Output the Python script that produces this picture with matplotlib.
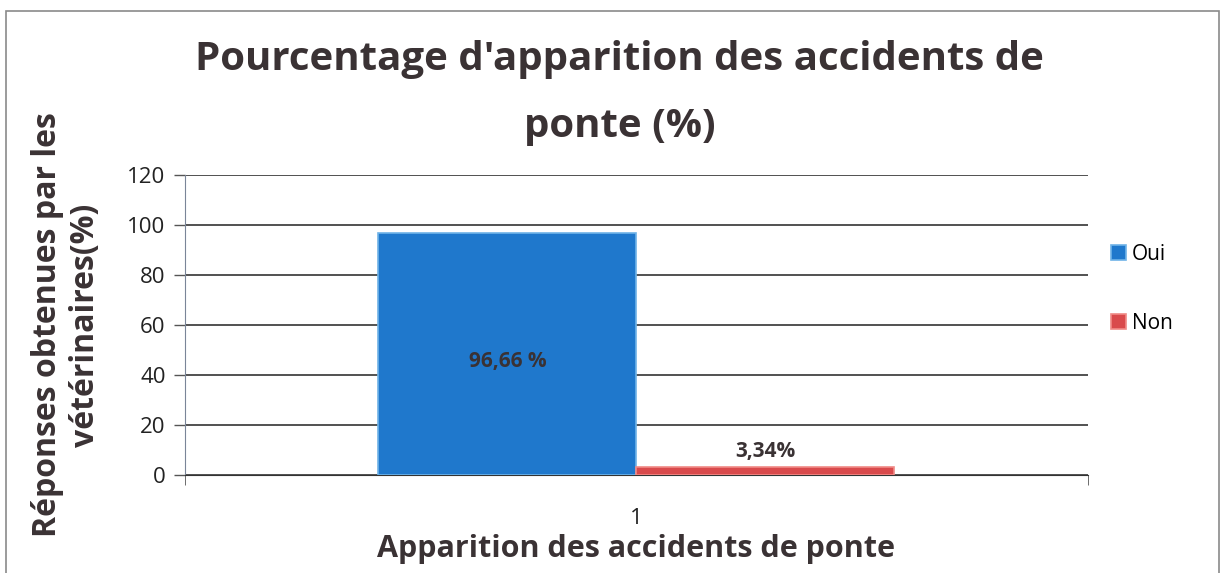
import matplotlib.pyplot as plt
from matplotlib.patches import Rectangle

series = ["Oui", "Non"]
values = [96.66, 3.34]
value_labels = ["96,66 %", "3,34%"]
category = [1]
yticks = [0, 20, 40, 60, 80, 100, 120]

colors = ["#1f78cc", "#d94a4c"]
edges = ["#6fb3e8", "#f08a86"]
txt = "#3a3234"

plt.rcParams["font.family"] = ["Open Sans", "DejaVu Sans"]

fig = plt.figure(figsize=(12.25, 5.73), dpi=100)
ax = fig.add_axes([0.151, 0.171, 0.737, 0.5236])

w = 0.2857
offsets = [-w / 2, w / 2]
for s, v, c, e, off in zip(series, values, colors, edges, offsets):
    ax.bar(category[0] + off, v, width=w, color=c, edgecolor=e, linewidth=1.2,
           label=s, zorder=3)

ax.text(category[0] + offsets[0], values[0] / 2 - 3, value_labels[0], ha="center",
        va="center", fontsize=15, fontweight="bold", color=txt, zorder=4)
ax.text(category[0] + offsets[1], values[1] + 2, value_labels[1], ha="center",
        va="bottom", fontsize=15, fontweight="bold", color=txt, zorder=4)

ax.set_xlim(0.5, 1.5)
ax.set_ylim(0, 120)
ax.set_yticks(yticks)
ax.set_xticks(category)
ax.set_xticks([0.5, 1.5], minor=True)
ax.tick_params(axis="y", length=8, width=1, color="#555555", labelsize=16,
               labelcolor="#222222", pad=6)
ax.tick_params(axis="x", which="major", length=0, labelsize=16,
               labelcolor="#222222", pad=24)
ax.tick_params(axis="x", which="minor", length=7, color="#555555")
ax.grid(axis="y", color="#222222", linewidth=1.1, zorder=0)
for sp in ["top", "right"]:
    ax.spines[sp].set_visible(False)
ax.spines["left"].set_color("#7a8598")
ax.spines["bottom"].set_color("#333333")

ax.set_xlabel("Apparition des accidents de ponte", fontsize=22,
              fontweight="bold", color=txt)
ax.xaxis.set_label_coords(0.5, -0.195)
ax.set_ylabel("Réponses obtenues par les\nvétérinaires(%)", fontsize=23,
              fontweight="bold", color=txt, linespacing=1.2)
ax.yaxis.set_label_coords(-0.092, 0.5)

fig.text(0.506, 0.838, "Pourcentage d'apparition des accidents de\nponte (%)",
         ha="center", va="center", fontsize=29, fontweight="bold", color=txt,
         linespacing=1.95)

ax.legend(loc="center left", bbox_to_anchor=(1.005, 0.62), frameon=False,
          fontsize=15, handlelength=0.7, handleheight=0.7, handletextpad=0.3,
          labelspacing=2.3)

fig.patches.append(Rectangle((0.005, -0.01), 0.99, 0.99, transform=fig.transFigure,
                             fill=False, edgecolor="#8a8a8a", linewidth=1.2))

fig.savefig("out.png", dpi=100)
